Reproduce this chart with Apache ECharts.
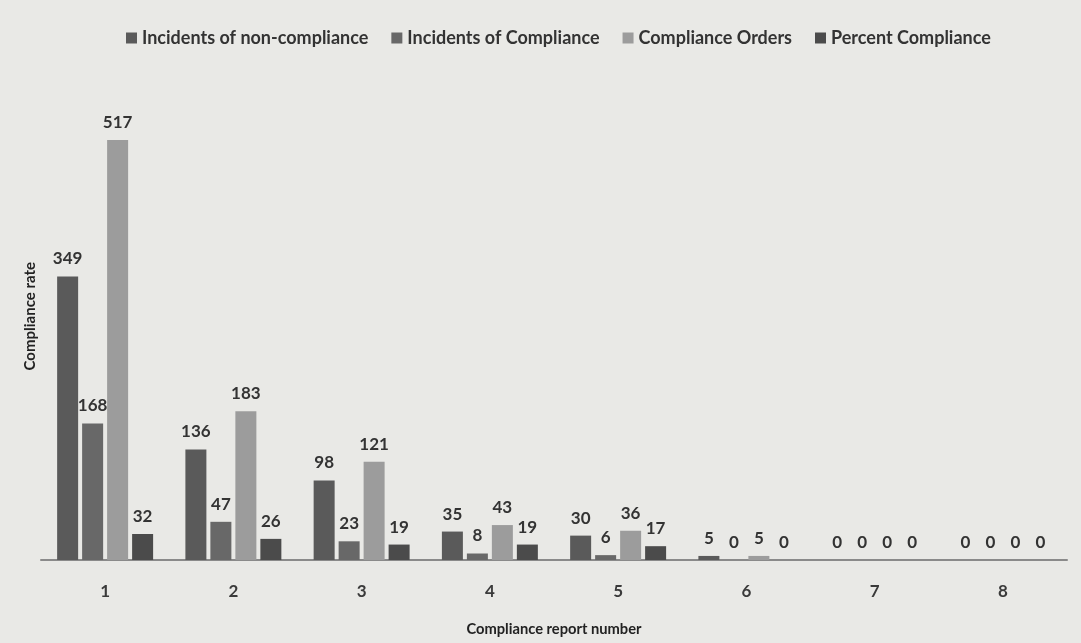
<!DOCTYPE html>
<html>
<head>
<meta charset="utf-8">
<script src="https://cdn.jsdelivr.net/npm/echarts@6/dist/echarts.min.js"></script>
<style>
  html, body { margin: 0; padding: 0; background: #e9e9e6; }
  #chart { width: 1081px; height: 643px; }
</style>
</head>
<body>
<div id="chart"></div>
<script>
// Compliance report numbers along the x axis
const reports = ['1', '2', '3', '4', '5', '6', '7', '8'];

// Series values per report
const nonCompliance = [349, 136, 98, 35, 30, 5, 0, 0];
const compliance    = [168, 47, 23, 8, 6, 0, 0, 0];
const orders        = [517, 183, 121, 43, 36, 5, 0, 0];
const percent       = [32, 26, 19, 19, 17, 0, 0, 0];

const seriesNames = ['Incidents of non-compliance', 'Incidents of Compliance', 'Compliance Orders', 'Percent Compliance'];
const seriesData = [nonCompliance, compliance, orders, percent];
const seriesColors = ['#5a5a5a', '#686868', '#9c9c9c', '#4b4b4b'];

const fontFamily = 'Lato, "Open Sans", sans-serif';

const chart = echarts.init(document.getElementById('chart'), null, { renderer: 'canvas' });

chart.setOption({
  backgroundColor: '#e9e9e6',
  animation: false,
  legend: {
    top: 24,
    left: 121,
    itemWidth: 11,
    itemHeight: 11,
    itemGap: 23,
    icon: 'rect',
    textStyle: { color: '#333', fontSize: 18, fontFamily: fontFamily, fontWeight: 'bold' },
    data: seriesNames
  },
  grid: { left: 41, right: 14, top: 72.5, bottom: 83, containLabel: false },
  xAxis: {
    type: 'category',
    data: reports,
    axisLine: { lineStyle: { color: '#8a8a8a', width: 2 } },
    axisTick: { show: false },
    axisLabel: { color: '#3a3a3a', fontSize: 17, margin: 23, fontFamily: fontFamily, fontWeight: 'bold' },
    name: 'Compliance report number',
    nameLocation: 'middle',
    nameGap: 62,
    nameTextStyle: { color: '#222', fontSize: 14.7, fontWeight: 'bold', fontFamily: fontFamily }
  },
  yAxis: {
    type: 'value',
    min: 0,
    max: 600,
    show: true,
    axisLine: { show: false },
    axisTick: { show: false },
    axisLabel: { show: false },
    splitLine: { show: false },
    name: 'Compliance rate',
    nameLocation: 'middle',
    nameGap: 3,
    nameRotate: 90,
    nameTextStyle: { color: '#222', fontSize: 15, fontWeight: 'bold', fontFamily: fontFamily }
  },
  series: seriesNames.map((name, i) => ({
    name: name,
    type: 'bar',
    data: seriesData[i],
    barWidth: 21,
    barGap: '19%',
    itemStyle: { color: seriesColors[i] },
    label: {
      show: true,
      position: 'top',
      distance: 9,
      color: '#333',
      fontSize: 17,
      fontWeight: 'bold',
      fontFamily: fontFamily
    }
  }))
});
</script>
</body>
</html>
